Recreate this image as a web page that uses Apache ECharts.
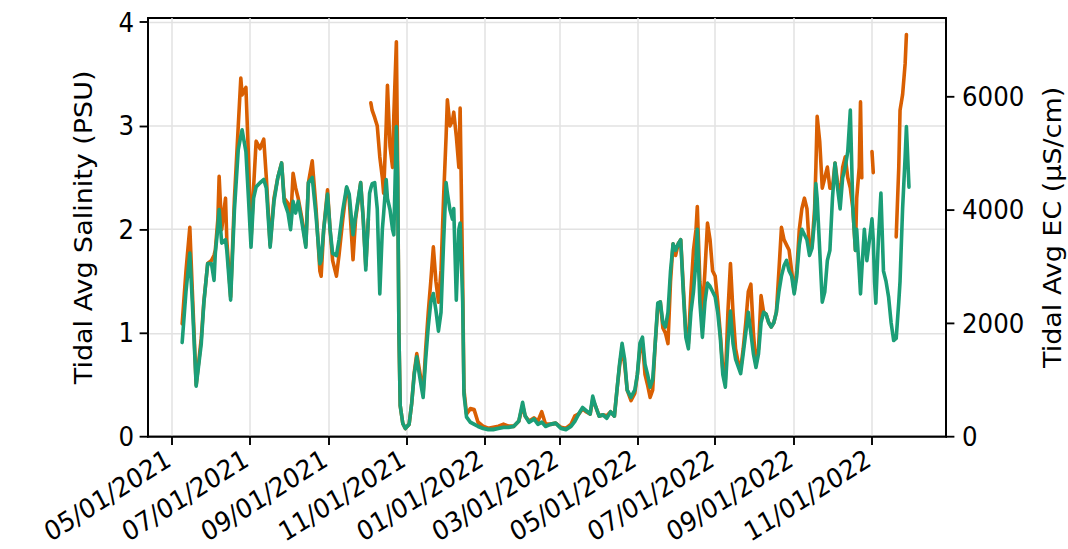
<!DOCTYPE html>
<html>
<head>
<meta charset="utf-8">
<script src="https://cdn.jsdelivr.net/npm/echarts@6/dist/echarts.min.js"></script>
<style>
  html, body { margin: 0; padding: 0; background: #ffffff; width: 1068px; height: 549px; overflow: hidden; }
  #wrap { position: relative; width: 1068px; height: 549px; overflow: hidden; }
  /* the figure is laid out 10% shorter and stretched vertically to its final 549px height */
  #chart { position: absolute; left: 0; top: 0; width: 1068px; height: 499px; transform: scaleY(1.1); transform-origin: 0 0; }
</style>
</head>
<body>
<div id="wrap"><div id="chart"></div></div>
<script>
// Daily tidal-average salinity at two stations (PSU), sampled dates
const dates = [
  '2021-05-09','2021-05-12','2021-05-15','2021-05-17','2021-05-20','2021-05-24','2021-05-26','2021-05-29',
  '2021-06-01','2021-06-03','2021-06-04','2021-06-06','2021-06-07','2021-06-09','2021-06-12','2021-06-13','2021-06-16','2021-06-19','2021-06-22','2021-06-24','2021-06-25','2021-06-28','2021-06-30',
  '2021-07-02','2021-07-04','2021-07-06','2021-07-09','2021-07-12','2021-07-14','2021-07-17','2021-07-20','2021-07-23','2021-07-26','2021-07-28','2021-07-31',
  '2021-08-02','2021-08-04','2021-08-06','2021-08-08','2021-08-11','2021-08-14','2021-08-16','2021-08-19','2021-08-22','2021-08-25','2021-08-26','2021-08-28','2021-08-31',
  '2021-09-02','2021-09-04','2021-09-07','2021-09-09','2021-09-12','2021-09-15','2021-09-17','2021-09-20','2021-09-22','2021-09-26','2021-09-28','2021-09-30',
  '2021-10-02','2021-10-03','2021-10-04','2021-10-05','2021-10-07','2021-10-09','2021-10-11','2021-10-13','2021-10-14','2021-10-16','2021-10-17','2021-10-19','2021-10-21','2021-10-22','2021-10-24','2021-10-25','2021-10-26','2021-10-27','2021-10-29','2021-10-31',
  '2021-11-03','2021-11-05','2021-11-07','2021-11-09','2021-11-11','2021-11-13','2021-11-14','2021-11-16','2021-11-18','2021-11-20','2021-11-22','2021-11-24','2021-11-26','2021-11-28','2021-11-30',
  '2021-12-02','2021-12-03','2021-12-05','2021-12-07','2021-12-08','2021-12-10','2021-12-12','2021-12-13','2021-12-15','2021-12-16','2021-12-18','2021-12-21','2021-12-24','2021-12-27','2021-12-31',
  '2022-01-04','2022-01-08','2022-01-12','2022-01-16','2022-01-20','2022-01-24','2022-01-28','2022-01-31',
  '2022-02-02','2022-02-05','2022-02-09','2022-02-12','2022-02-15','2022-02-18','2022-02-22','2022-02-26',
  '2022-03-02','2022-03-06','2022-03-10','2022-03-13','2022-03-16','2022-03-19','2022-03-22','2022-03-25','2022-03-27','2022-03-29',
  '2022-04-01','2022-04-04','2022-04-07','2022-04-10','2022-04-13','2022-04-15','2022-04-17','2022-04-19','2022-04-21','2022-04-23','2022-04-26','2022-04-29',
  '2022-05-01','2022-05-03','2022-05-05','2022-05-07','2022-05-09','2022-05-11','2022-05-13','2022-05-15','2022-05-17','2022-05-19','2022-05-21','2022-05-23','2022-05-25','2022-05-27','2022-05-29','2022-05-31',
  '2022-06-02','2022-06-04','2022-06-06','2022-06-08','2022-06-10','2022-06-12','2022-06-14','2022-06-16','2022-06-17','2022-06-19','2022-06-21','2022-06-23','2022-06-25','2022-06-27','2022-06-29',
  '2022-07-01','2022-07-03','2022-07-05','2022-07-07','2022-07-09','2022-07-11','2022-07-13','2022-07-15','2022-07-17','2022-07-19','2022-07-21','2022-07-23','2022-07-25','2022-07-27','2022-07-29','2022-07-31',
  '2022-08-02','2022-08-04','2022-08-06','2022-08-08','2022-08-10','2022-08-12','2022-08-14','2022-08-16','2022-08-18','2022-08-20','2022-08-22','2022-08-24','2022-08-26','2022-08-28','2022-08-30',
  '2022-09-01','2022-09-03','2022-09-05','2022-09-07','2022-09-09','2022-09-11','2022-09-13','2022-09-15','2022-09-17','2022-09-18','2022-09-19','2022-09-21','2022-09-23','2022-09-25','2022-09-27','2022-09-29',
  '2022-10-01','2022-10-03','2022-10-05','2022-10-07','2022-10-09','2022-10-11','2022-10-13','2022-10-15','2022-10-17','2022-10-19','2022-10-20','2022-10-22','2022-10-23','2022-10-24','2022-10-26','2022-10-28','2022-10-30',
  '2022-11-01','2022-11-02','2022-11-03','2022-11-04','2022-11-06','2022-11-08','2022-11-10','2022-11-12','2022-11-14','2022-11-16','2022-11-18','2022-11-20','2022-11-22','2022-11-23','2022-11-25','2022-11-27','2022-11-28','2022-11-30'
];

// Orange station (null = no record)
const salinityA = [
  1.09,1.60,2.02,1.40,0.50,0.95,1.30,1.67,
  1.70,1.75,1.80,2.10,2.51,2.00,2.30,1.90,1.35,2.30,3.00,3.46,3.30,3.37,2.70,
  1.90,2.40,2.85,2.78,2.87,2.50,1.85,2.30,2.50,2.64,2.30,2.25,
  2.05,2.54,2.40,2.30,2.10,1.85,2.45,2.66,2.20,1.60,1.55,2.00,2.38,
  2.00,1.70,1.55,1.75,2.10,2.40,2.30,1.71,2.10,2.45,2.10,1.65,
  2.10,null,3.22,3.15,3.08,3.00,2.70,2.50,2.35,3.00,3.39,2.80,2.60,3.10,3.81,2.60,1.00,0.30,0.13,0.08,
  0.12,0.32,0.62,0.80,0.65,0.50,0.42,0.85,1.20,1.50,1.83,1.50,1.30,1.60,2.30,
  2.90,3.25,3.00,3.05,3.13,2.90,2.60,3.17,1.50,0.45,0.22,0.27,0.26,0.14,0.10,
  0.08,0.09,0.10,0.12,0.10,0.10,0.15,0.30,
  0.20,0.15,0.18,0.15,0.24,0.12,0.12,0.13,
  0.09,0.08,0.12,0.20,0.22,0.27,0.24,0.22,0.36,0.30,
  0.20,0.21,0.20,0.24,0.20,0.45,0.68,0.85,0.70,0.45,0.35,0.42,
  0.60,0.85,0.90,0.60,0.50,0.38,0.45,0.90,1.25,1.30,1.05,1.00,0.90,1.50,1.86,1.75,
  1.86,1.90,1.45,1.00,0.90,1.40,1.80,2.00,2.22,1.50,1.20,1.60,2.06,1.90,1.60,
  1.55,1.30,1.00,0.65,0.55,1.20,1.67,1.20,0.85,0.72,0.65,0.85,1.10,1.40,1.47,1.00,
  0.70,0.85,1.36,1.20,1.18,1.10,1.06,1.10,1.20,1.60,2.02,1.90,1.85,1.80,1.60,
  1.40,1.60,2.00,2.20,2.30,2.20,1.80,1.85,2.20,2.60,3.09,2.85,2.40,2.50,2.60,2.40,
  2.40,2.64,2.45,2.30,2.60,2.70,2.50,2.40,2.20,1.80,2.30,2.60,3.23,2.50,null,null,null,
  2.75,2.55,null,null,null,null,null,null,null,null,null,1.93,2.60,3.15,3.30,3.60,3.88,null
];

// Green station
const salinityB = [
  0.91,1.40,1.77,1.29,0.49,0.90,1.29,1.67,
  1.67,1.51,1.77,2.02,2.19,1.87,1.90,1.80,1.32,2.19,2.77,2.90,2.96,2.75,2.30,
  1.83,2.30,2.41,2.45,2.48,2.40,1.83,2.27,2.50,2.64,2.27,2.16,
  2.00,2.27,2.16,2.27,2.06,1.83,2.45,2.50,2.13,1.67,1.70,2.00,2.34,
  2.00,1.77,1.75,1.90,2.19,2.41,2.34,1.95,2.13,2.45,2.10,1.61,
  2.10,2.35,2.40,2.44,2.45,2.20,1.38,2.00,2.15,2.48,2.30,2.19,2.00,1.95,2.99,2.50,1.00,0.30,0.13,0.08,
  0.12,0.32,0.60,0.77,0.60,0.45,0.38,0.75,1.06,1.30,1.38,1.22,1.02,1.20,1.87,
  2.45,2.35,2.19,2.10,2.20,1.32,2.00,2.06,1.30,0.41,0.19,0.14,0.12,0.10,0.08,
  0.07,0.07,0.08,0.09,0.09,0.10,0.15,0.33,
  0.20,0.14,0.17,0.12,0.14,0.10,0.12,0.13,
  0.08,0.07,0.10,0.15,0.22,0.28,0.25,0.22,0.39,0.30,
  0.20,0.21,0.18,0.24,0.20,0.45,0.70,0.90,0.75,0.45,0.38,0.45,
  0.60,0.90,0.96,0.70,0.60,0.48,0.55,0.90,1.29,1.30,1.10,1.06,1.20,1.60,1.86,1.80,
  1.86,1.90,1.40,0.96,0.85,1.20,1.40,1.70,2.00,1.30,0.96,1.30,1.48,1.45,1.40,
  1.35,1.20,0.96,0.60,0.48,0.90,1.21,0.90,0.75,0.68,0.61,0.80,1.00,1.20,1.00,0.80,
  0.67,0.80,1.10,1.20,1.18,1.10,1.06,1.10,1.20,1.40,1.55,1.65,1.70,1.60,1.55,
  1.38,1.55,1.85,2.00,1.95,1.90,1.75,1.82,2.10,2.44,2.30,1.80,1.30,1.40,1.70,1.80,
  2.30,2.64,2.40,2.20,2.50,2.60,2.75,3.15,2.20,1.80,2.00,1.60,1.38,1.60,2.00,1.70,1.90,
  2.10,1.90,1.50,1.29,1.90,2.35,1.60,1.50,1.35,1.10,0.93,0.95,1.30,1.50,2.20,2.70,2.99,2.41
];

// Axis ticks
const xTickLabels = ['05/01/2021','07/01/2021','09/01/2021','11/01/2021','01/01/2022',
                     '03/01/2022','05/01/2022','07/01/2022','09/01/2022','11/01/2022'];
const psuTicks = [0, 1, 2, 3, 4];
const ecTicks = [0, 2000, 4000, 6000];

// Dates become millisecond timestamps on a linear value axis
function parseYMD(s) {
  const p = s.split('-').map(Number);
  return new Date(p[0], p[1] - 1, p[2]).getTime();
}
function parseMDY(s) {
  const p = s.split('/').map(Number);
  return new Date(p[2], p[0] - 1, p[1]).getTime();
}
const xTickValues = xTickLabels.map(parseMDY);
const times = dates.map(parseYMD);

const FONT = 'DejaVu Sans';
const FS = 24.5;
const INK = '#000000';
const GRID = '#e2e2e2';

const chart = echarts.init(document.getElementById('chart'), null, { renderer: 'svg' });

const option = {
  animation: false,
  backgroundColor: '#ffffff',
  grid: {
    left: 148, right: 122, top: 16.4, bottom: 102,
    containLabel: false, outerBoundsMode: 'none',
    show: true, borderColor: INK, borderWidth: 1.8, backgroundColor: 'transparent'
  },
  xAxis: {
    type: 'value',
    min: new Date(2021, 3, 12, 5).getTime(),
    max: new Date(2022, 11, 29, 1).getTime(),
    axisLine: { show: true, onZero: false, lineStyle: { color: INK, width: 1.7 } },
    axisTick: { show: true, customValues: xTickValues, length: 7.6, lineStyle: { color: INK, width: 1.9 } },
    axisLabel: {
      customValues: xTickValues, rotate: 30, margin: 16,
      fontSize: FS, fontFamily: FONT, color: INK,
      padding: [0, 4, 0, 0],
      formatter: function (v) {
        const i = xTickValues.indexOf(v);
        return i >= 0 ? xTickLabels[i] : '';
      }
    },
    splitLine: { show: true, lineStyle: { color: GRID, width: 1.5 } }
  },
  yAxis: [
    {
      type: 'value', min: 0, max: 4.04, position: 'left',
      name: 'Tidal Avg Salinity (PSU)', nameLocation: 'middle', nameGap: 52, nameRotate: 90,
      nameTextStyle: { fontSize: FS, fontFamily: FONT, color: INK },
      axisLine: { show: true, onZero: false, lineStyle: { color: INK, width: 1.9 } },
      axisTick: { show: true, customValues: psuTicks, length: 8.4, lineStyle: { color: INK, width: 1.7 } },
      axisLabel: { customValues: psuTicks, margin: 14, fontSize: FS, fontFamily: FONT, color: INK },
      splitLine: { show: true, lineStyle: { color: GRID, width: 1.4 } }
    },
    {
      type: 'value', min: 0, max: 7380, position: 'right',
      name: 'Tidal Avg EC (µS/cm)', nameLocation: 'middle', nameGap: 94, nameRotate: 90,
      nameTextStyle: { fontSize: FS, fontFamily: FONT, color: INK },
      axisLine: { show: true, onZero: false, lineStyle: { color: INK, width: 1.9 } },
      axisTick: { show: true, customValues: ecTicks, length: 8.4, lineStyle: { color: INK, width: 1.7 } },
      axisLabel: {
        customValues: ecTicks, margin: 16, fontSize: FS, fontFamily: FONT, color: INK,
        formatter: function (v) { return String(v); }
      },
      splitLine: { show: false }
    }
  ],
  series: [
    {
      name: 'Station A', type: 'line', yAxisIndex: 0,
      data: times.map((t, i) => [t, salinityA[i]]),
      showSymbol: false, symbol: 'none', connectNulls: false,
      lineStyle: { color: '#d95f02', width: 3.6, join: 'round', cap: 'round' },
      itemStyle: { color: '#d95f02' }
    },
    {
      name: 'Station B', type: 'line', yAxisIndex: 0,
      data: times.map((t, i) => [t, salinityB[i]]),
      showSymbol: false, symbol: 'none', connectNulls: false,
      lineStyle: { color: '#1b9e77', width: 3.6, join: 'round', cap: 'round' },
      itemStyle: { color: '#1b9e77' }
    }
  ]
};

chart.setOption(option);
</script>
</body>
</html>
